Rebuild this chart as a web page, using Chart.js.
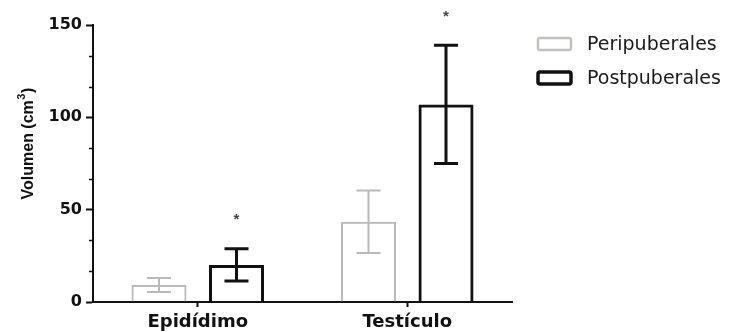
<!DOCTYPE html>
<html><head><meta charset="utf-8">
<script src="https://cdn.jsdelivr.net/npm/chart.js@4"></script>
<style>html,body{margin:0;padding:0;background:#fff}#wrap{width:730px;height:332px}</style>
</head><body><div id="wrap"><canvas id="c" width="730" height="332"></canvas></div>
<script>
const categories = ['Epidídimo', 'Testículo'];
const seriesNames = ['Peripuberales', 'Postpuberales'];
const periMeans = [9.2, 43.5];
const periErrors = [3.8, 16.9];
const postMeans = [20.1, 107];
const postErrors = [8.7, 32];
const periStars = [null, null];
const postStars = [46, 156];
const yTicks = [0, 50, 100, 150];
const yMinorPerMajor = 3;
const yTitleMain = 'Volumen (cm';
const yTitleSup = '3';
const yTitleEnd = ')';

const GRAY = '#b9b9b9';
const BLACK = '#111111';

const errorData = [periErrors, postErrors];
const starData = [periStars, postStars];

const extrasPlugin = {
  id: 'extras',
  afterDatasetsDraw(chart) {
    const ctx = chart.ctx;
    const y = chart.scales.y;
    chart.data.datasets.forEach((ds, i) => {
      const meta = chart.getDatasetMeta(i);
      meta.data.forEach((bar, j) => {
        const v = ds.data[j];
        const e = errorData[i][j];
        const top = y.getPixelForValue(v + e);
        const bot = y.getPixelForValue(v - e);
        ctx.save();
        ctx.strokeStyle = ds.borderColor;
        ctx.lineWidth = i === 0 ? 2 : 3;
        ctx.beginPath();
        ctx.moveTo(bar.x, top); ctx.lineTo(bar.x, bot);
        ctx.moveTo(bar.x - 12, top); ctx.lineTo(bar.x + 12, top);
        ctx.moveTo(bar.x - 12, bot); ctx.lineTo(bar.x + 12, bot);
        ctx.stroke();
        const s = starData[i][j];
        if (s !== null) {
          ctx.fillStyle = '#444';
          ctx.font = 'bold 15px "Liberation Sans"';
          ctx.textAlign = 'center';
          ctx.textBaseline = 'middle';
          ctx.fillText('*', bar.x, y.getPixelForValue(s) + 3);
        }
        ctx.restore();
      });
    });
  },
  afterDraw(chart) {
    const ctx = chart.ctx;
    const y = chart.scales.y;
    const area = chart.chartArea;
    // minor ticks
    ctx.save();
    ctx.strokeStyle = BLACK;
    ctx.lineWidth = 1.5;
    for (let k = 0; k < yTicks.length - 1; k++) {
      const step = (yTicks[k + 1] - yTicks[k]) / yMinorPerMajor;
      for (let m = 1; m < yMinorPerMajor; m++) {
        const py = Math.round(y.getPixelForValue(yTicks[k] + step * m)) + 0.5;
        ctx.beginPath();
        ctx.moveTo(y.right - 4, py); ctx.lineTo(y.right, py);
        ctx.stroke();
      }
    }
    ctx.restore();
    // y axis title with superscript
    ctx.save();
    const mainFont = 'bold 16px "Liberation Sans"';
    const supFont = 'bold 11px "Liberation Sans"';
    ctx.font = mainFont;
    const w1 = ctx.measureText(yTitleMain).width;
    const w3 = ctx.measureText(yTitleEnd).width;
    ctx.font = supFont;
    const w2 = ctx.measureText(yTitleSup).width;
    const total = w1 + w2 + w3;
    const cy = area.top + (area.bottom - area.top) * 0.43;
    ctx.translate(33, cy);
    ctx.rotate(-Math.PI / 2);
    ctx.fillStyle = '#111';
    ctx.textBaseline = 'alphabetic';
    ctx.textAlign = 'left';
    let x0 = -total / 2;
    ctx.font = mainFont; ctx.fillText(yTitleMain, x0, 0);
    ctx.font = supFont; ctx.fillText(yTitleSup, x0 + w1 + 0.5, -8);
    ctx.font = mainFont; ctx.fillText(yTitleEnd, x0 + w1 + w2 + 1, 0);
    ctx.restore();
    // legend
    ctx.save();
    const lx = 538, ly0 = 44, gap = 34;
    chart.data.datasets.forEach((ds, i) => {
      const cy2 = ly0 + i * gap;
      ctx.strokeStyle = i === 0 ? '#c4c0bc' : BLACK;
      ctx.lineWidth = i === 0 ? 2.5 : 3.5;
      ctx.beginPath();
      if (ctx.roundRect) ctx.roundRect(lx, cy2 - 6, 33, 12, 2); else ctx.rect(lx, cy2 - 6, 33, 12);
      ctx.stroke();
      ctx.fillStyle = '#1a1a1a';
      ctx.font = '19px "DejaVu Sans"';
      ctx.textAlign = 'left';
      ctx.textBaseline = 'middle';
      ctx.fillText(ds.label, 587, cy2 + 1);
    });
    ctx.restore();
  }
};

new Chart(document.getElementById('c'), {
  type: 'bar',
  data: {
    labels: categories,
    datasets: [
      { label: seriesNames[0], data: periMeans, backgroundColor: 'rgba(0,0,0,0)', borderColor: GRAY, borderWidth: 2, categoryPercentage: 0.74, barPercentage: 0.71 },
      { label: seriesNames[1], data: postMeans, backgroundColor: 'rgba(0,0,0,0)', borderColor: BLACK, borderWidth: 3, categoryPercentage: 0.74, barPercentage: 0.71 }
    ]
  },
  options: {
    responsive: false,
    animation: false,
    devicePixelRatio: 1,
    layout: { padding: { top: 25, right: 218, bottom: 0, left: 0 } },
    plugins: { legend: { display: false }, tooltip: { enabled: false } },
    scales: {
      x: {
        offset: true,
        grid: { display: true, drawOnChartArea: false, offset: false, tickLength: 5, tickWidth: 2, tickColor: BLACK },
        border: { display: true, color: BLACK, width: 2 },
        ticks: { color: '#111', padding: 5, font: { family: '"DejaVu Sans"', size: 18, weight: 'bold' }, maxRotation: 0 },
        afterFit(s) { s.height = 30; }
      },
      y: {
        min: 0, max: 150,
        afterBuildTicks(s) { s.ticks = yTicks.map(v => ({ value: v })); },
        grid: { display: true, drawOnChartArea: false, tickLength: 7, tickWidth: 2, tickColor: BLACK },
        border: { display: true, color: BLACK, width: 2 },
        ticks: { color: '#111', padding: 4, font: { family: '"DejaVu Sans"', size: 16, weight: 'bold' } },
        title: { display: false },
        afterFit(s) { s.width = 93; }
      }
    }
  },
  plugins: [extrasPlugin]
});
</script>
</body></html>
